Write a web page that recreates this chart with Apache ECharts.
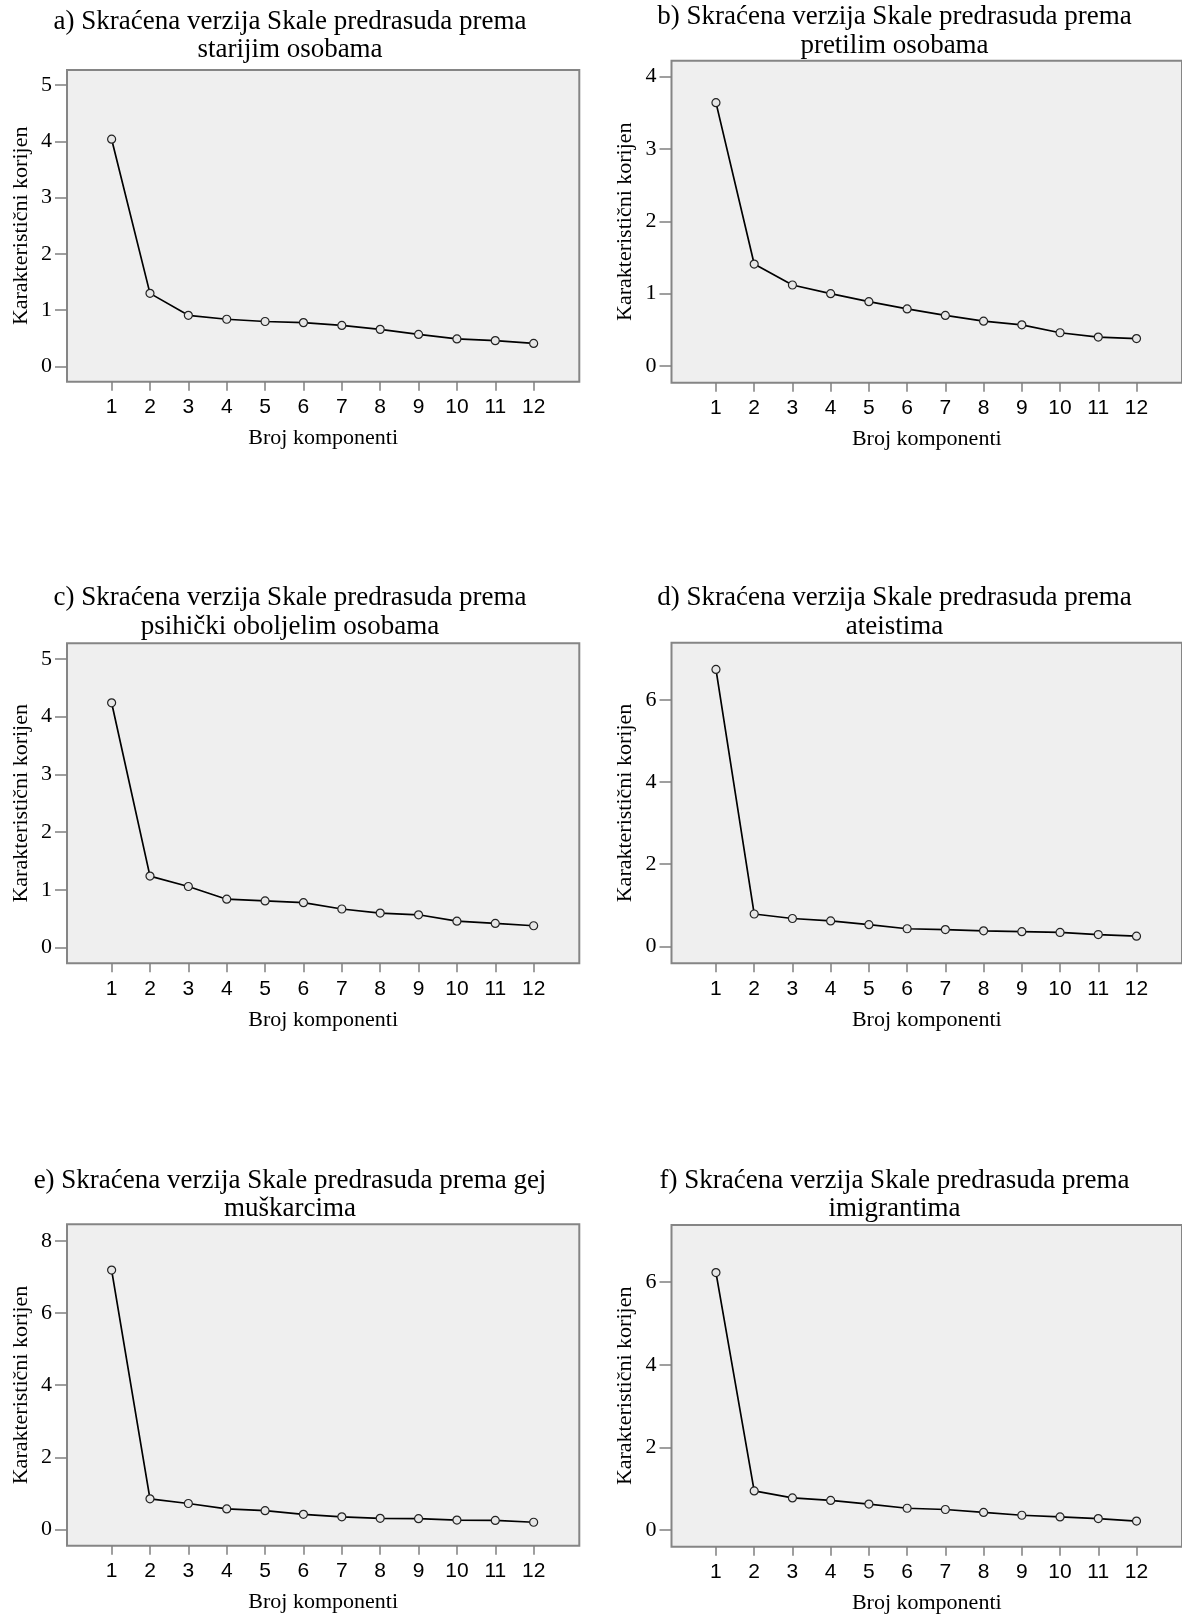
<!DOCTYPE html>
<html>
<head>
<meta charset="utf-8">
<script src="https://cdn.jsdelivr.net/npm/echarts@6/dist/echarts.min.js"></script>
<style>
html,body{margin:0;padding:0;background:#fff;}
#chart{width:1182px;height:1616px;}
</style>
</head>
<body>
<div id="chart"></div>
<script>
// ---- data ----
const components = [1, 2, 3, 4, 5, 6, 7, 8, 9, 10, 11, 12];

const eigA = [4.04, 1.30, 0.91, 0.84, 0.80, 0.78, 0.73, 0.66, 0.57, 0.49, 0.46, 0.41];
const eigB = [3.64, 1.41, 1.12, 1.00, 0.89, 0.79, 0.70, 0.62, 0.57, 0.46, 0.40, 0.38];
const eigC = [4.24, 1.24, 1.06, 0.84, 0.81, 0.78, 0.67, 0.60, 0.57, 0.46, 0.42, 0.38];
const eigD = [6.74, 0.79, 0.68, 0.62, 0.53, 0.43, 0.41, 0.38, 0.36, 0.34, 0.29, 0.25];
const eigE = [7.19, 0.85, 0.72, 0.57, 0.52, 0.42, 0.35, 0.31, 0.30, 0.26, 0.25, 0.20];
const eigF = [6.23, 0.95, 0.78, 0.72, 0.63, 0.53, 0.50, 0.43, 0.36, 0.32, 0.28, 0.22];

const yTicksA = [0, 1, 2, 3, 4, 5];
const yTicksB = [0, 1, 2, 3, 4];
const yTicksC = [0, 1, 2, 3, 4, 5];
const yTicksD = [0, 2, 4, 6];
const yTicksE = [0, 2, 4, 6, 8];
const yTicksF = [0, 2, 4, 6];

const titles = [
  'a) Skraćena verzija Skale predrasuda prema\nstarijim osobama',
  'b) Skraćena verzija Skale predrasuda prema\npretilim osobama',
  'c) Skraćena verzija Skale predrasuda prema\npsihički oboljelim osobama',
  'd) Skraćena verzija Skale predrasuda prema\nateistima',
  'e) Skraćena verzija Skale predrasuda prema gej\nmuškarcima',
  'f) Skraćena verzija Skale predrasuda prema\nimigrantima'
];
const xAxisTitle = 'Broj komponenti';
const yAxisTitle = 'Karakteristični korijen';

// ---- layout ----
const SERIF = '"Liberation Serif", "Times New Roman", serif';
const SANS = '"Liberation Sans", Arial, sans-serif';

const panels = [
  {vals: eigA, ticks: yTicksA, left: 67,    top: 70,    bottom: 381.7,  ymin: -0.27, ymax: 5.27, tcx: 290,   tcy: 36},
  {vals: eigB, ticks: yTicksB, left: 671.5, top: 60.7,  bottom: 382.7,  ymin: -0.23, ymax: 4.22, tcx: 894.5, tcy: 31.5},
  {vals: eigC, ticks: yTicksC, left: 67,    top: 643.3, bottom: 963.3,  ymin: -0.27, ymax: 5.27, tcx: 290,   tcy: 612.5},
  {vals: eigD, ticks: yTicksD, left: 671.5, top: 642.7, bottom: 963.3,  ymin: -0.41, ymax: 7.39, tcx: 894.5, tcy: 612.5},
  {vals: eigE, ticks: yTicksE, left: 67,    top: 1224.3,bottom: 1545.7, ymin: -0.45, ymax: 8.46, tcx: 290,   tcy: 1195},
  {vals: eigF, ticks: yTicksF, left: 671.5, top: 1225,  bottom: 1546.7, ymin: -0.40, ymax: 7.38, tcx: 894.5, tcy: 1195}
];

const grid = [], xAxis = [], yAxis = [], series = [], graphic = [];

panels.forEach((p, i) => {
  grid.push({
    left: p.left, top: p.top, width: 512.3, height: p.bottom - p.top,
    show: true, backgroundColor: '#efefef', borderColor: '#858585', borderWidth: 2,
    containLabel: false
  });
  xAxis.push({
    type: 'value', gridIndex: i, min: -0.163, max: 13.19,
    axisLine: {show: false, onZero: false},
    splitLine: {show: false},
    axisTick: {show: true, customValues: components, length: 9, lineStyle: {color: '#808080', width: 1.5}},
    axisLabel: {customValues: components, margin: 15, fontFamily: SANS, fontSize: 21, color: '#000'},
    name: xAxisTitle, nameLocation: 'middle', nameGap: 46,
    nameTextStyle: {fontFamily: SERIF, fontSize: 22, color: '#000'}
  });
  yAxis.push({
    type: 'value', gridIndex: i, min: p.ymin, max: p.ymax,
    axisLine: {show: false, onZero: false},
    splitLine: {show: false},
    axisTick: {show: true, customValues: p.ticks, length: 12, lineStyle: {color: '#808080', width: 1.5}},
    axisLabel: {customValues: p.ticks, margin: 15, fontFamily: SERIF, fontSize: 22, color: '#000'},
    name: yAxisTitle, nameLocation: 'middle', nameRotate: 90, nameGap: 35,
    nameTextStyle: {fontFamily: SERIF, fontSize: 22, color: '#000'}
  });
  series.push({
    type: 'line', xAxisIndex: i, yAxisIndex: i,
    data: components.map((c, k) => [c, p.vals[k]]),
    symbol: 'circle', symbolSize: 8,
    lineStyle: {color: '#000', width: 1.7},
    itemStyle: {color: '#e6e6e6', borderColor: '#222', borderWidth: 1.2},
    animation: false, silent: true
  });
  graphic.push({
    type: 'text', x: p.tcx, y: p.tcy,
    style: {text: titles[i], font: '27px ' + SERIF, align: 'center', verticalAlign: 'middle', lineHeight: 28.5, fill: '#000'}
  });
});

const chart = echarts.init(document.getElementById('chart'), null, {renderer: 'canvas'});
chart.setOption({
  backgroundColor: '#ffffff',
  animation: false,
  grid, xAxis, yAxis, series, graphic
});
</script>
</body>
</html>
